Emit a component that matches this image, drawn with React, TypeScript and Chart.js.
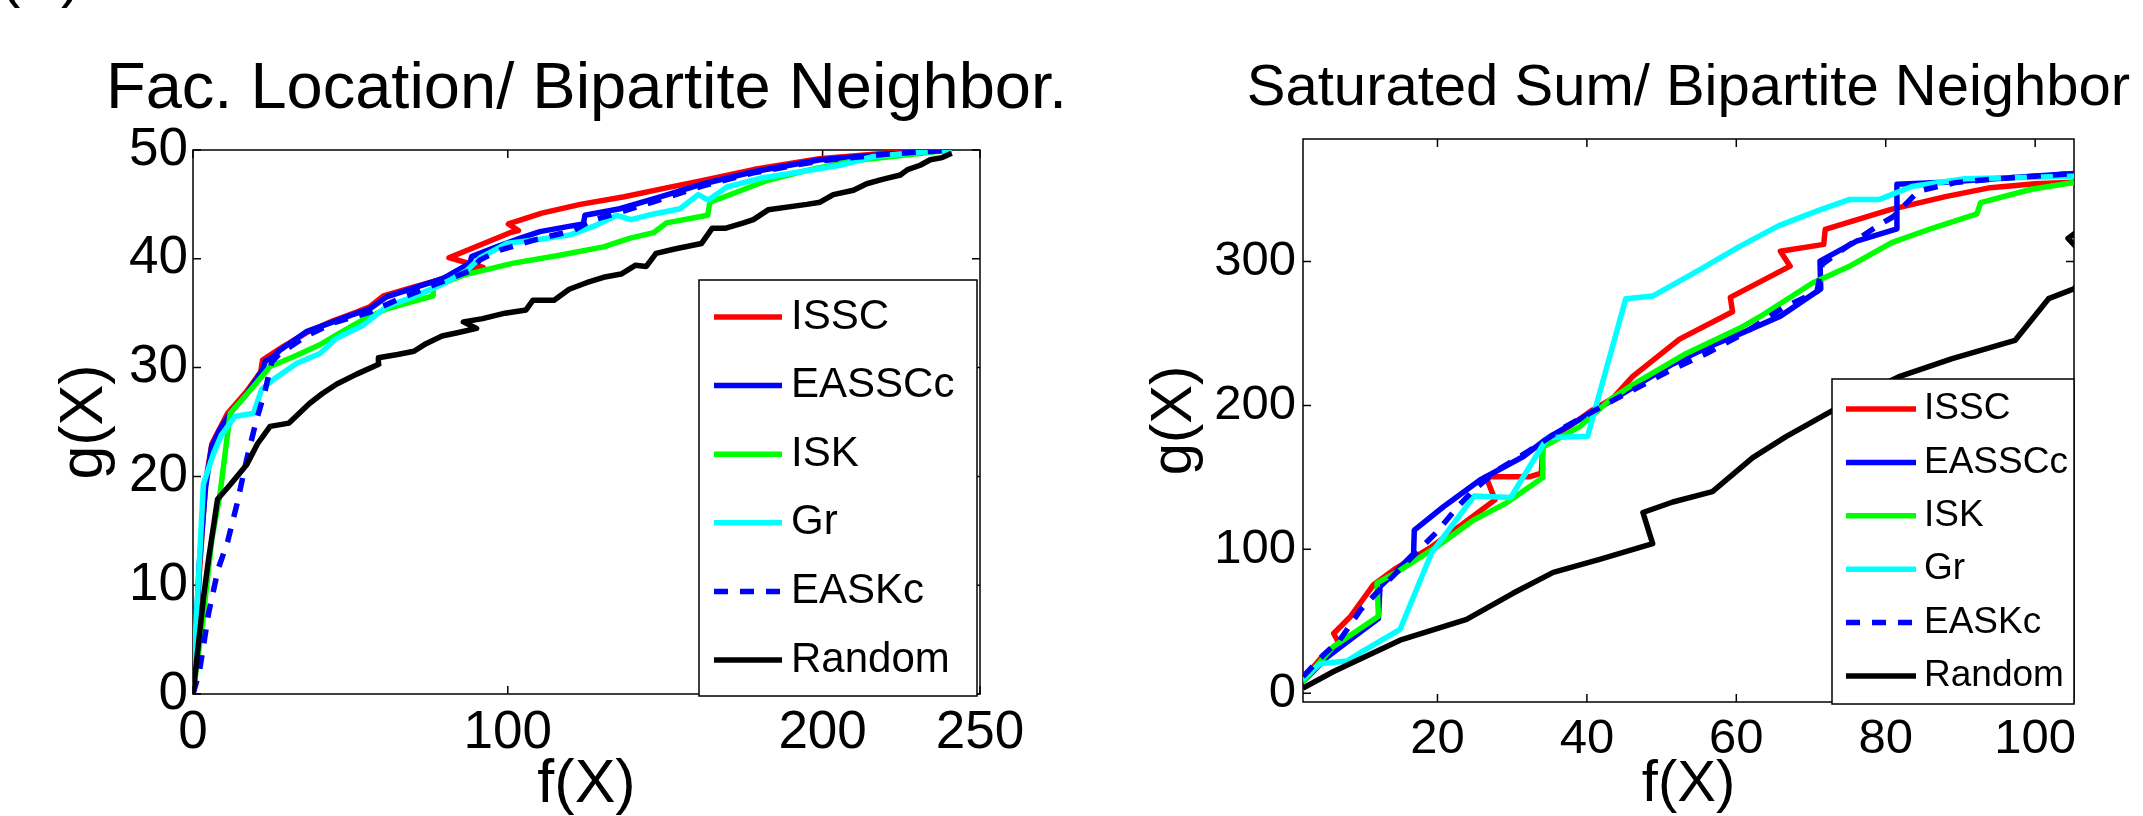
import React, { useEffect, useRef } from 'react';
import { Chart, registerables } from 'chart.js';

Chart.register(...registerables);

const FONT = '"Liberation Sans", Arial, Helvetica, sans-serif';

const SERIES_LABELS = ['ISSC', 'EASSCc', 'ISK', 'Gr', 'EASKc', 'Random'];
const SERIES_COLORS = ['#ff0000', '#0000ff', '#00ff00', '#00ffff', '#0000ff', '#000000'];
const SERIES_DASHED = [false, false, false, false, true, false];

type Pt = [number, number];

// ---------- Left panel: Fac. Location / Bipartite Neighbor. ----------
const facISSC: Pt[] = [[0,0],[2,11],[4,19.5],[6,23],[11,25.8],[17,27.8],[21.5,29.6],[22.1,30.7],[28.5,31.9],[36,33.2],[44.5,34.3],[52,35.1],[56.2,35.6],[60.5,36.6],[70,37.4],[77.4,38.0],[86.9,39.0],[92.2,39.2],[81.3,40.1],[100.7,42.4],[103.4,42.6],[100.2,43.2],[110.8,44.2],[123,45.0],[137,45.7],[150,46.5],[162,47.2],[178,48.2],[199,49.2],[220,49.7],[241,50]];
const facEASSCc: Pt[] = [[0,0],[2,12],[4,19],[5.9,22.7],[8.5,24.3],[11.8,25.8],[17.1,27.6],[22.1,29.8],[23,30.6],[25.5,31.0],[27.6,31.6],[36,33.3],[44.5,34.2],[50,34.8],[56.2,35.4],[61.5,36.5],[70,37.3],[79.5,38.2],[88,39.6],[88.5,40.2],[96.4,41.1],[104,41.9],[110.2,42.5],[119.8,43.0],[124,43.2],[124.5,44.0],[135.6,44.6],[148.4,45.7],[162.2,46.9],[178,48.0],[199.2,49.1],[220.4,49.6],[241,50]];
const facISK: Pt[] = [[0,0],[3,6.5],[6,14.2],[8.6,18.4],[11.8,25.8],[18.1,27.9],[24.5,30.1],[31.9,31.0],[40.3,32.1],[46.7,33.2],[54.1,34.4],[61.5,35.4],[70,36.1],[76.3,36.6],[76.3,37.4],[85.9,38.5],[101.8,39.6],[116,40.3],[130.4,41.1],[138.9,41.9],[146.3,42.4],[150.4,43.3],[163.5,44.0],[164.2,45.2],[171.6,46.0],[182.3,47.2],[196,48.2],[209.8,49.0],[225,49.5],[241,50]];
const facGr: Pt[] = [[0,0],[0.6,4.5],[2,12],[3.3,19.3],[6.5,22.1],[9,23.8],[13.3,25.5],[19.2,25.8],[21.8,28.0],[25.5,28.9],[33,30.4],[40.3,31.3],[45.6,32.7],[54.1,33.9],[61.5,35.6],[70,36.5],[79.5,37.7],[86.9,38.9],[91.2,40.1],[99.6,41.4],[110.2,41.8],[119.8,42.2],[128.2,43.1],[134.6,44.0],[139.1,43.6],[146,44.1],[154.7,44.6],[160.5,45.9],[163.7,45.4],[169.6,46.6],[180.2,47.4],[193,48.0],[205.6,48.6],[216.2,49.4],[231,49.8],[241,50]];
const facEASKc: Pt[] = [[0,0],[2,2],[5,7.5],[8,11.5],[11,14],[14,17.5],[17,21.5],[20,25],[23,28],[25,30.5],[27.6,31.3],[36,32.9],[44.5,34.1],[56.2,35.1],[64.6,36.2],[77.4,37.7],[88,38.9],[91.2,39.9],[97.5,40.8],[108,41.7],[120.8,42.6],[126.2,43.5],[133.6,44.1],[148,45.4],[162,46.7],[178,47.9],[199,49.0],[220,49.6],[241,50]];
const facRandom: Pt[] = [[0,0],[1.5,4],[3.3,8.8],[5,12.5],[7.8,17.9],[12,19.3],[17.1,21.1],[20.5,23],[24.5,24.6],[30.5,24.9],[33,25.6],[37,26.7],[41,27.6],[45.7,28.5],[52,29.4],[59,30.3],[58.9,30.9],[65,31.2],[70.2,31.5],[74,32.2],[79.1,32.9],[84,33.2],[90.1,33.6],[85.9,34.2],[92,34.5],[99.1,35.0],[105.8,35.3],[108,36.2],[114.7,36.2],[119.5,37.2],[125,37.8],[130.4,38.3],[136,38.6],[140.5,39.4],[144,39.3],[147.1,40.5],[153,40.9],[161.5,41.4],[164.9,42.8],[169,42.8],[174.9,43.3],[178,43.6],[182.7,44.5],[195,45.0],[199.2,45.2],[203.4,45.9],[209.8,46.3],[214,46.9],[219,47.3],[224.7,47.7],[227,48.2],[231,48.6],[234.2,49.1],[238,49.3],[241,49.7]];

const FAC_X_TICKS = [0, 100, 200, 250];
const FAC_Y_TICKS = [0, 10, 20, 30, 40, 50];

// ---------- Right panel: Saturated Sum / Bipartite Neighbor ----------
const satISSC: Pt[] = [[2,10],[4.5,25],[6.8,35],[6.1,41.6],[8.3,53],[11.4,75.2],[14.5,87],[19,101],[24,120],[27.7,134.4],[26.5,150.5],[32.4,150.5],[33.9,153],[34.1,172],[37,183],[40.5,196],[43.5,205],[46.1,220],[52.4,246],[59.5,265],[59.2,275],[67.2,296.7],[65.9,307.1],[71.7,311.8],[71.9,322.2],[80.6,336],[88,345],[94,351.2],[100,354],[105.2,355]];
const satEASSCc: Pt[] = [[2,8],[5.2,25],[8.5,38],[12.1,52],[12.3,74],[14.5,85],[16.8,97],[16.9,113.4],[20.8,129.6],[25.7,148.2],[31.5,164.5],[34.7,177.2],[40.5,194.6],[46,212],[51.5,228.8],[56,240],[60.4,249.5],[65.9,262],[71.3,280.9],[71.2,300.2],[76.1,314.1],[81.5,322.6],[81.5,353.6],[87.8,355],[95,357.5],[105.2,361]];
const satISK: Pt[] = [[2,8],[6,32.2],[12.1,53.5],[11.9,76.5],[15,85.6],[19.9,101.8],[24.8,120.2],[29.3,132.5],[34.1,150],[34.1,171],[39.1,185.4],[43.1,203.9],[46.1,214.3],[53.3,236.1],[60.5,253.7],[63.1,261.4],[70.2,285],[75.3,297],[80.8,313],[86.2,323],[92.2,333],[92.7,340.8],[99.5,350.1],[105.2,354.8]];
const satGr: Pt[] = [[2,9.8],[4.3,20.6],[7.9,22.4],[9.9,29],[15,44.5],[19.2,97.5],[24.9,137],[29.8,136],[34.7,177.5],[40.1,178.5],[45.2,274.1],[48.8,275.9],[55,294],[60.4,310.3],[65.7,324.8],[71.1,335.6],[75.1,342.9],[79.1,342.9],[83.5,352],[90.6,357.4],[105.2,359.2]];
const satEASKc: Pt[] = [[2,11.6],[4.8,27],[6.9,36.9],[9.7,57.9],[12.8,75],[15.5,89],[19.9,112],[22.6,129],[24.8,141],[28,155],[31.9,167.3],[37.2,185.4],[43.5,203.5],[51.5,225.2],[56,236],[61,250],[66.3,268],[70.8,279],[71.5,298],[75,311],[79,325],[81,331],[84.4,348.9],[89.3,354.7],[95,357.5],[105.2,361]];
const satRandom: Pt[] = [[2,3.6],[6.1,15.2],[15,36.9],[23.9,51.4],[30.1,69.5],[35.5,84],[41.7,93],[48.8,104],[47.5,125.6],[51.5,132.9],[56.8,140.1],[62.2,163.7],[66.6,178.1],[72.8,196.2],[77,208],[81.7,219.8],[88.9,232.5],[97.3,245.1],[101.8,274.1],[105.2,281],[108,296],[104.4,316],[108,330]];

const SAT_X_TICKS = [20, 40, 60, 80, 100];
const SAT_Y_TICKS = [0, 100, 200, 300];

// ---------- plugin: MATLAB-style title, box, inward ticks, legend ----------
const matlabAxes = {
  id: 'matlabAxes',
  beforeDatasetsDraw(chart: any, _args: any, o: any) {
    const { ctx, chartArea: a } = chart;
    const sx = chart.scales.x;
    const sy = chart.scales.y;
    ctx.save();
    // title (drawn without width compression)
    ctx.fillStyle = '#000';
    ctx.font = `${o.titleSize}px ${FONT}`;
    ctx.textAlign = 'center';
    ctx.textBaseline = 'alphabetic';
    ctx.fillText(o.title, (a.left + a.right) / 2, o.titleBaseline);
    if (o.cropText) {
      ctx.font = `${o.cropText.size}px ${FONT}`;
      ctx.textAlign = 'left';
      ctx.fillText(o.cropText.text, o.cropText.x, o.cropText.y);
    }
    // box + inward ticks
    ctx.strokeStyle = '#000';
    ctx.lineWidth = o.frameWidth;
    ctx.strokeRect(a.left, a.top, a.right - a.left, a.bottom - a.top);
    ctx.beginPath();
    sx.ticks.forEach((t: any) => {
      const p = sx.getPixelForValue(t.value);
      ctx.moveTo(p, a.bottom); ctx.lineTo(p, a.bottom - o.tickLen);
      ctx.moveTo(p, a.top); ctx.lineTo(p, a.top + o.tickLen);
    });
    sy.ticks.forEach((t: any) => {
      const p = sy.getPixelForValue(t.value);
      ctx.moveTo(a.left, p); ctx.lineTo(a.left + o.tickLen, p);
      ctx.moveTo(a.right, p); ctx.lineTo(a.right - o.tickLen, p);
    });
    ctx.stroke();
    ctx.restore();
  },
  afterDatasetsDraw(chart: any, _args: any, o: any) {
    const { ctx, chartArea: a } = chart;
    const L = o.legend;
    const x0 = a.right - L.rightGap - L.width;
    const y0 = a.top + L.topOffset;
    const y1 = a.bottom + L.bottomOffset;
    ctx.save();
    ctx.fillStyle = '#fff';
    ctx.fillRect(x0, y0, L.width, y1 - y0);
    ctx.strokeStyle = '#000';
    ctx.lineWidth = 1.5;
    ctx.strokeRect(x0, y0, L.width, y1 - y0);
    ctx.font = `${L.fontSize}px ${FONT}`;
    ctx.textBaseline = 'middle';
    ctx.textAlign = 'left';
    chart.data.datasets.forEach((ds: any, i: number) => {
      const y = y0 + L.firstRow + i * L.rowGap;
      ctx.beginPath();
      ctx.strokeStyle = ds.borderColor;
      ctx.lineWidth = ds.borderWidth;
      ctx.lineCap = 'butt';
      ctx.setLineDash(ds.borderDash || []);
      ctx.moveTo(x0 + L.sample0, y);
      ctx.lineTo(x0 + L.sample1, y);
      ctx.stroke();
      ctx.setLineDash([]);
      ctx.fillStyle = '#000';
      ctx.fillText(ds.label, x0 + L.textX, y);
    });
    ctx.restore();
  },
};

function buildDatasets(series: Pt[][]) {
  return series.map((pts, i) => ({
    label: SERIES_LABELS[i],
    data: pts.map(([x, y]) => ({ x, y })),
    borderColor: SERIES_COLORS[i],
    backgroundColor: SERIES_COLORS[i],
    borderWidth: 5.5,
    borderDash: SERIES_DASHED[i] ? [14, 12] : [],
    borderJoinStyle: 'round',
    pointRadius: 0,
    tension: 0,
    fill: false,
    order: series.length - i,
  }));
}

interface Panel {
  title: string; titleSize: number; titleBaseline: number; cropText?: any;
  series: Pt[][];
  xMin: number; xMax: number; yMin: number; yMax: number;
  xTicks: number[]; yTicks: number[];
  tickSize: number; xTickPad: number; yTickPad: number;
  labelSize: number; yTitlePad: number; xTitlePad: number;
  yAxisWidth: number; xAxisHeight: number; padRight: number; padTop: number;
  legend: any;
}

function makeConfig(p: Panel): any {
  const tickFont = { family: FONT, size: p.tickSize, lineHeight: 1 };
  const labelFont = { family: FONT, size: p.labelSize, lineHeight: 1 };
  return {
    type: 'line',
    data: { datasets: buildDatasets(p.series) },
    plugins: [matlabAxes],
    options: {
      animation: false,
      responsive: false,
      devicePixelRatio: 1,
      events: [],
      layout: { padding: { left: 0, right: p.padRight, top: p.padTop, bottom: 0 } },
      plugins: {
        legend: { display: false },
        tooltip: { enabled: false },
        title: { display: false },
        matlabAxes: {
          frameWidth: 1.5, tickLen: 8, legend: p.legend,
          title: p.title, titleSize: p.titleSize, titleBaseline: p.titleBaseline,
          cropText: p.cropText,
        },
      },
      scales: {
        x: {
          type: 'linear',
          min: p.xMin, max: p.xMax,
          grid: { display: false, drawTicks: false },
          border: { display: false },
          ticks: { font: tickFont, color: '#000', padding: p.xTickPad, autoSkip: false, maxRotation: 0, callback: (v: number) => String(v) },
          afterBuildTicks: (s: any) => { s.ticks = p.xTicks.map((v) => ({ value: v })); },
          afterFit: (s: any) => { s.height = p.xAxisHeight; },
          title: { display: true, text: 'f(X)', color: '#000', font: labelFont, padding: { top: 0, bottom: p.xTitlePad } },
        },
        y: {
          type: 'linear',
          min: p.yMin, max: p.yMax,
          grid: { display: false, drawTicks: false },
          border: { display: false },
          ticks: { font: tickFont, color: '#000', padding: p.yTickPad, autoSkip: false, callback: (v: number) => String(v) },
          afterBuildTicks: (s: any) => { s.ticks = p.yTicks.map((v) => ({ value: v })); },
          afterFit: (s: any) => { s.width = p.yAxisWidth; },
          title: { display: true, text: 'g(X)', color: '#000', font: labelFont, padding: { top: p.yTitlePad, bottom: 0 } },
        },
      },
    },
  };
}

const LEFT_PANEL: Panel = {
  title: 'Fac. Location/ Bipartite Neighbor.', titleSize: 65, titleBaseline: 108,
  cropText: { text: 'f(X)', size: 61, x: -17, y: -5 },
  series: [facISSC, facEASSCc, facISK, facGr, facEASKc, facRandom],
  xMin: 0, xMax: 250, yMin: 0, yMax: 50,
  xTicks: FAC_X_TICKS, yTicks: FAC_Y_TICKS,
  tickSize: 53, xTickPad: 13, yTickPad: 5,
  labelSize: 61, yTitlePad: 55, xTitlePad: 0,
  yAxisWidth: 193, xAxisHeight: 122, padRight: 91, padTop: 150,
  legend: { rightGap: 3, width: 278, topOffset: 130, bottomOffset: 2, firstRow: 37, rowGap: 68.6, sample0: 15, sample1: 83, textX: 92, fontSize: 42 },
};

const RIGHT_PANEL: Panel = {
  title: 'Saturated Sum/ Bipartite Neighbor', titleSize: 58, titleBaseline: 105,
  series: [satISSC, satEASSCc, satISK, satGr, satEASKc, satRandom],
  xMin: 2, xMax: 105.2, yMin: -6, yMax: 385,
  xTicks: SAT_X_TICKS, yTicks: SAT_Y_TICKS,
  tickSize: 49, xTickPad: 13, yTickPad: 7,
  labelSize: 58, yTitlePad: 75, xTitlePad: 2,
  yAxisWidth: 232, xAxisHeight: 114, padRight: 69, padTop: 139,
  legend: { rightGap: 0, width: 242, topOffset: 240, bottomOffset: 2, firstRow: 30, rowGap: 53.4, sample0: 14, sample1: 84, textX: 92, fontSize: 37 },
};

function PanelChart({ panel, left, width }: { panel: Panel; left: number; width: number }) {
  const ref = useRef<HTMLCanvasElement | null>(null);
  useEffect(() => {
    if (!ref.current) return;
    const chart = new Chart(ref.current, makeConfig(panel));
    return () => chart.destroy();
  }, [panel]);
  return (
    <canvas
      ref={ref}
      width={width}
      height={816}
      style={{ position: 'absolute', left, top: 0, width, height: 816 }}
    />
  );
}

export default function App() {
  return (
    <div style={{ position: 'absolute', left: 0, top: 0, width: 2143, height: 816, background: '#fff', overflow: 'hidden' }}>
      <PanelChart panel={LEFT_PANEL} left={0} width={1071} />
      <PanelChart panel={RIGHT_PANEL} left={1071} width={1072} />
    </div>
  );
}
